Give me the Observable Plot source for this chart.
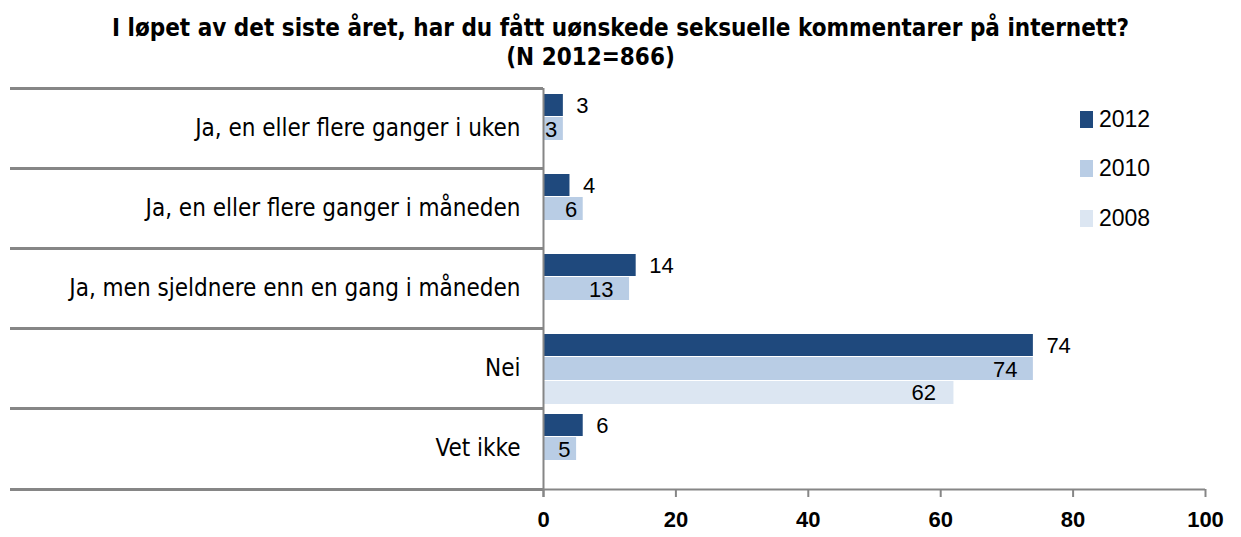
<!DOCTYPE html>
<html>
<head>
<meta charset="utf-8">
<script src="https://cdn.jsdelivr.net/npm/d3@7"></script>
<script src="https://cdn.jsdelivr.net/npm/@observablehq/plot@0.6"></script>
<style>
  body { margin: 0; background: #fff; }
  #wrap { position: relative; width: 1241px; height: 537px; overflow: hidden; }
  #title { position: absolute; left: 0; top: 0; width: 1241px; height: 80px; text-align: center;
    font-family: "Liberation Sans Narrow", "DejaVu Sans Condensed", sans-serif; font-weight: bold; color: #000; }
  #title .l1 { position: absolute; left: 0; width: 1241px; top: 14px; font-size: 24px; letter-spacing: 0px; }
  #title .l2 { position: absolute; left: -30px; width: 1241px; top: 43px; font-size: 24px; }
  #chart { position: absolute; left: 0; top: 80px; }
  .leg { position: absolute; left: 1080px; font-family: "Liberation Sans", Arial, sans-serif; font-size: 23px; color: #000; }
  .leg span.sw { position: absolute; left: 0; width: 13px; height: 17px; }
  .leg span.tx { position: absolute; left: 19px; white-space: nowrap; line-height: 17px; }
</style>
</head>
<body>
<div id="wrap">
  <div id="title">
    <div class="l1">I løpet av det siste året, har du fått uønskede seksuelle kommentarer på internett?</div>
    <div class="l2">(N 2012=866)</div>
  </div>
  <div id="chart"></div>
  <div id="legend"></div>
</div>
<script>
const categories = [
  "Ja, en eller flere ganger i uken",
  "Ja, en eller flere ganger i måneden",
  "Ja, men sjeldnere enn en gang i måneden",
  "Nei",
  "Vet ikke"
];
const years = ["2012", "2010", "2008"];
const v2012 = [3, 4, 14, 74, 6];
const v2010 = [3, 6, 13, 74, 5];
const v2008 = [null, null, null, 62, null];
const xTicks = [0, 20, 40, 60, 80, 100];
const colors = {"2012": "#1f497d", "2010": "#b9cde5", "2008": "#dce6f2"};

const series = {"2012": v2012, "2010": v2010, "2008": v2008};
const rows = years.flatMap(yr => categories.map((c, i) => ({category: c, year: yr, value: series[yr][i]})))
  .filter(d => d.value != null);
const of = yr => rows.filter(d => d.year === yr);
const short = d => String(d.value).length < 2;

const catFont = "'Liberation Sans Narrow', 'DejaVu Sans Condensed', sans-serif";
const numFont = "'Liberation Sans', Arial, sans-serif";
const grey = "#868686";
const lbl = {x: "value", y: "category", text: d => String(d.value), fontSize: 22, fontFamily: numFont, fill: "#000"};

const chart = Plot.plot({
  width: 1241,
  height: 457,
  marginTop: 8,
  marginBottom: 49,
  marginLeft: 543,
  marginRight: 36,
  x: {domain: [0, 100], axis: null},
  y: {domain: categories, padding: 0, axis: null},
  marks: [
    Plot.barX(of("2012"), {x: "value", y: "category", fill: colors["2012"], insetTop: 6, insetBottom: 52}),
    Plot.barX(of("2010"), {x: "value", y: "category", fill: colors["2010"], insetTop: 29, insetBottom: 28}),
    Plot.barX(of("2008"), {x: "value", y: "category", fill: colors["2008"], insetTop: 53, insetBottom: 4}),
    Plot.text(of("2012"), {...lbl, dy: -23, dx: 13, textAnchor: "start"}),
    Plot.text(of("2010").filter(short), {...lbl, dy: 1, dx: -6, textAnchor: "end"}),
    Plot.text(of("2010").filter(d => !short(d)), {...lbl, dy: 1, dx: -16, textAnchor: "end"}),
    Plot.text(of("2008"), {...lbl, dy: 24, dx: -18, textAnchor: "end"}),
    // category labels
    Plot.axisY({anchor: "left", label: null, tickSize: 0, tickPadding: 23, fontSize: 24, fontFamily: catFont, fill: "#000"}),
    // band separators (long category ticks)
    Plot.axisY({anchor: "left", label: null, tickSize: 533, tickFormat: () => "", dy: -40, stroke: grey, strokeWidth: 3}),
    Plot.axisY({anchor: "left", label: null, ticks: ["Vet ikke"], tickSize: 533, tickFormat: () => "", dy: 41, stroke: grey, strokeWidth: 3}),
    Plot.ruleY(["Vet ikke"], {dy: 41, stroke: grey, strokeWidth: 2}),
    Plot.ruleX([0], {stroke: grey, strokeWidth: 2, insetBottom: -9}),
    Plot.axisX({label: null, ticks: xTicks, tickSize: 8, tickPadding: 14, stroke: grey, strokeWidth: 2, fontSize: 22, fontWeight: "bold",
      fontFamily: numFont, fill: "#000", dy: 1})
  ]
});
document.getElementById("chart").appendChild(chart);

const legTop = {"2012": 111, "2010": 160, "2008": 210};
const legend = document.getElementById("legend");
years.forEach(yr => {
  const d = document.createElement("div");
  d.className = "leg";
  d.style.top = legTop[yr] + "px";
  d.innerHTML = `<span class="sw" style="background:${colors[yr]}"></span><span class="tx">${yr}</span>`;
  legend.appendChild(d);
});
</script>
</body>
</html>
